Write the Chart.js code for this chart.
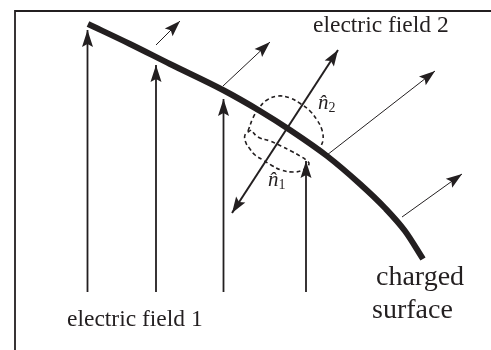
<!DOCTYPE html>
<html>
<head>
<meta charset="utf-8">
<script src="https://cdn.jsdelivr.net/npm/chart.js@4.4.1/dist/chart.umd.min.js"></script>
<style>
  html, body { margin: 0; padding: 0; background: #fff; }
  #wrap { width: 491px; height: 350px; }
</style>
</head>
<body>
<div id="wrap"><canvas id="diagram" width="491" height="350"></canvas></div>
<script>
// charged surface (thick curve)
const surfaceX = [88, 130, 170, 223, 260, 290, 327, 360, 385, 405, 423];
const surfaceY = [24, 44, 64, 90, 111, 130, 156, 184, 208, 231, 259];

// electric field 1 (vertical arrows)
const field1X = [87.5, 156, 223.5, 306];
const field1Base = [292, 292, 292, 292];
const field1Tip = [30, 65, 99, 161];

// electric field 2 (thin arrows leaving the surface)
const field2StartX = [156, 223, 327, 402];
const field2StartY = [45, 86, 155, 217];
const field2EndX = [180, 270, 435, 462];
const field2EndY = [21, 42, 71, 174];

// surface normal (double arrow)
const normalX = [232, 338];
const normalY = [213, 50];

// gaussian pillbox faces
const topFaceX = [248, 253, 259, 267, 278, 290, 301, 310, 317, 322, 323, 320];
const topFaceY = [131, 118, 108, 100, 96, 98, 104, 111, 120, 130, 140, 148];
const bottomFaceX = [251, 245, 246, 250, 255, 263, 271, 281, 293, 303, 309, 306, 300, 291, 281, 270, 258, 251];
const bottomFaceY = [130, 135, 143, 149, 155, 160, 165, 170, 172, 170, 164, 160, 156, 151, 146, 141, 137, 130];

// frame
const frameX = [15, 15, 491];
const frameY = [350, 11, 11];

// text
const labelText = ['electric field 2', 'electric field 1', 'charged', 'surface'];
const labelX = [313, 67, 376, 372];
const labelY = [32, 326, 285, 318];
const labelSize = [23.5, 23.5, 28, 28];

const normalLabel = ['n\u0302', 'n\u0302'];
const normalSub = ['2', '1'];
const normalLabelX = [318, 268];
const normalLabelY = [109, 186];

const ink = '#231f20';

function pts(xs, ys) {
    return xs.map((x, i) => ({ x: x, y: ys[i] }));
}

function line(xs, ys, width, extra) {
    return Object.assign({
        data: pts(xs, ys),
        showLine: true,
        borderColor: ink,
        backgroundColor: ink,
        borderWidth: width,
        pointRadius: 0,
        tension: 0,
        fill: false
    }, extra || {});
}

const datasets = [];
datasets.push(line(frameX, frameY, 1.8));
datasets.push(line(surfaceX, surfaceY, 6, { cubicInterpolationMode: 'monotone', tension: 0.4 }));

field1X.forEach((x, i) => {
    datasets.push(line([x, x], [field1Base[i], field1Tip[i]], 1.8,
        { head: { end: true, len: 17, half: 5.5, notch: 3 } }));
});

field2StartX.forEach((x, i) => {
    datasets.push(line([x, field2EndX[i]], [field2StartY[i], field2EndY[i]], 1,
        { head: { end: true, len: 16, half: 5.5, notch: 3 } }));
});

datasets.push(line(normalX, normalY, 2,
    { head: { end: true, start: true, len: 16, half: 5.5, notch: 3 } }));

datasets.push(line(topFaceX, topFaceY, 1.6, { tension: 0.4, borderDash: [4, 3] }));
datasets.push(line(bottomFaceX, bottomFaceY, 1.6, { tension: 0.4, borderDash: [4, 3] }));

function drawHead(ctx, from, to, h) {
    const a = Math.atan2(to.y - from.y, to.x - from.x);
    ctx.save();
    ctx.translate(to.x, to.y);
    ctx.rotate(a);
    ctx.beginPath();
    ctx.moveTo(0, 0);
    ctx.lineTo(-h.len, h.half);
    ctx.lineTo(-h.len + h.notch, 0);
    ctx.lineTo(-h.len, -h.half);
    ctx.closePath();
    ctx.fill();
    ctx.restore();
}

const arrowHeads = {
    id: 'arrowHeads',
    afterDatasetsDraw(chart) {
        const ctx = chart.ctx;
        chart.data.datasets.forEach((ds, i) => {
            if (!ds.head) return;
            const p = chart.getDatasetMeta(i).data;
            const n = p.length;
            ctx.save();
            ctx.fillStyle = ds.borderColor;
            if (ds.head.end) drawHead(ctx, p[n - 2], p[n - 1], ds.head);
            if (ds.head.start) drawHead(ctx, p[1], p[0], ds.head);
            ctx.restore();
        });
    }
};

const textLabels = {
    id: 'textLabels',
    afterDraw(chart) {
        const ctx = chart.ctx;
        const xs = chart.scales.x;
        const ys = chart.scales.y;
        ctx.save();
        ctx.fillStyle = ink;
        ctx.textAlign = 'left';
        ctx.textBaseline = 'alphabetic';
        labelText.forEach((t, i) => {
            ctx.font = labelSize[i] + 'px "Liberation Serif", "DejaVu Serif", serif';
            ctx.fillText(t, xs.getPixelForValue(labelX[i]), ys.getPixelForValue(labelY[i]));
        });
        normalLabel.forEach((t, i) => {
            const px = xs.getPixelForValue(normalLabelX[i]);
            const py = ys.getPixelForValue(normalLabelY[i]);
            ctx.font = 'italic 21px "Liberation Serif", serif';
            ctx.fillText(t, px, py);
            const w = ctx.measureText('n').width;
            ctx.font = '14px "Liberation Serif", serif';
            ctx.fillText(normalSub[i], px + w, py + 3);
        });
        ctx.restore();
    }
};

new Chart(document.getElementById('diagram'), {
    type: 'scatter',
    data: { datasets: datasets },
    options: {
        responsive: false,
        animation: false,
        devicePixelRatio: 1,
        layout: { padding: 0 },
        plugins: {
            legend: { display: false },
            tooltip: { enabled: false }
        },
        scales: {
            x: { type: 'linear', min: 0, max: 491, display: false },
            y: { type: 'linear', min: 0, max: 350, reverse: true, display: false }
        }
    },
    plugins: [arrowHeads, textLabels]
});
</script>
</body>
</html>
